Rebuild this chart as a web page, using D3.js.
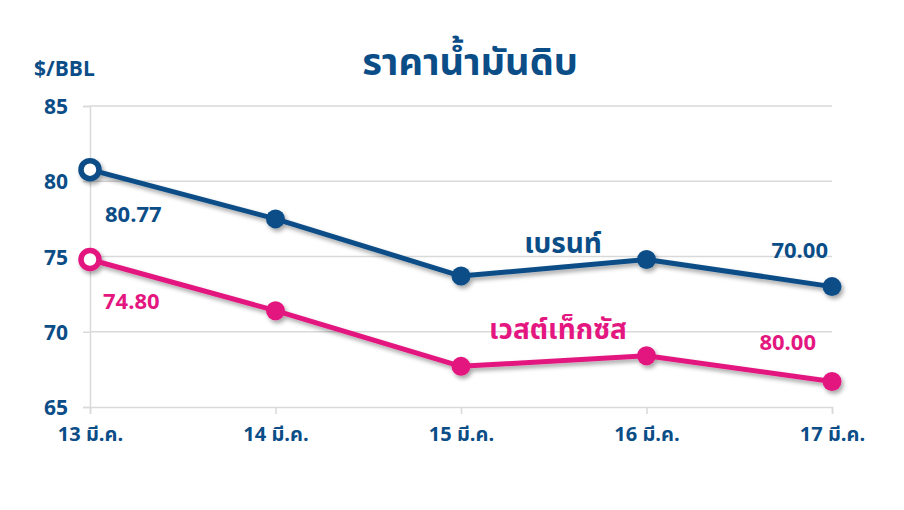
<!DOCTYPE html>
<html><head><meta charset="utf-8">
<script src="https://cdn.jsdelivr.net/npm/d3@7/dist/d3.min.js"></script>
<style>
body{margin:0;background:#fff;}
text{font-family:"Noto Sans Thai","Noto Sans","Open Sans",sans-serif;font-weight:bold;}
</style></head>
<body><svg id="c" width="904" height="510"></svg>
<script>
const categories = ["13 มี.ค.","14 มี.ค.","15 มี.ค.","16 มี.ค.","17 มี.ค."];
const brent = [80.77, 77.5, 73.7, 74.8, 73.0];
const wti = [74.8, 71.4, 67.7, 68.4, 66.7];
const yTicks = [65, 70, 75, 80, 85];
const seriesNames = ["เบรนท์", "เวสต์เท็กซัส"];
const valueLabels = ["80.77", "74.80", "70.00", "80.00"];
const title = "ราคาน้ำมันดิบ";
const unit = "$/BBL";

const blue = "#0b4d87", pink = "#e3177f", grid = "#d9d9d9";
const svg = d3.select("#c");
const defs = svg.append("defs");
const f = defs.append("filter").attr("id","sh").attr("x","-10%").attr("y","-20%").attr("width","130%").attr("height","160%");
f.append("feDropShadow").attr("dx",2).attr("dy",3).attr("stdDeviation",2).attr("flood-color","#000").attr("flood-opacity",0.35);

const x = d3.scalePoint().domain(categories).range([90, 832]);
const y = d3.scaleLinear().domain([65, 85]).range([407, 106]);

// gridlines
svg.append("g").selectAll("line").data(yTicks.filter(d=>d>65)).join("line")
  .attr("x1",90).attr("x2",832).attr("y1",d=>y(d)).attr("y2",d=>y(d))
  .attr("stroke",grid).attr("stroke-width",1.5);

// y axis
const ya = svg.append("g").attr("transform","translate(90,0)")
  .call(d3.axisLeft(y).tickValues(yTicks).tickSize(7).tickPadding(15));
ya.select(".domain").attr("stroke",grid).attr("stroke-width",1.5);
ya.selectAll(".tick line").attr("stroke",grid).attr("stroke-width",1.5);
ya.selectAll("text").attr("fill",blue).attr("font-size",21).attr("dy","0.36em");

// x axis
const xa = svg.append("g").attr("transform","translate(0,407)")
  .call(d3.axisBottom(x).tickSize(7).tickPadding(13));
xa.select(".domain").attr("stroke",grid).attr("stroke-width",1.5);
xa.selectAll(".tick line").attr("stroke",grid).attr("stroke-width",1.5);
xa.selectAll("text").attr("fill",blue).attr("font-size",20);

const line = d3.line().x((d,i)=>x(categories[i])).y(d=>y(d));
function drawSeries(vals, col){
  const g = svg.append("g").attr("filter","url(#sh)");
  g.append("path").datum(vals).attr("d",line).attr("fill","none").attr("stroke",col).attr("stroke-width",5).attr("stroke-linejoin","round");
  g.selectAll("circle").data(vals).join("circle")
    .attr("cx",(d,i)=>x(categories[i])).attr("cy",d=>y(d))
    .attr("r",(d,i)=>i===0?9:9.5)
    .attr("fill",(d,i)=>i===0?"#fff":col)
    .attr("stroke",col).attr("stroke-width",(d,i)=>i===0?5.5:0);
}
drawSeries(brent, blue);
drawSeries(wti, pink);

// texts
svg.append("text").attr("x",470).attr("y",75).attr("text-anchor","middle").attr("fill",blue).attr("font-size",38).text(title);
svg.append("text").attr("x",34).attr("y",76).attr("fill",blue).attr("font-size",21).text(unit);

const lab = (t,xx,yy,col,sz,anchor)=>svg.append("text").attr("x",xx).attr("y",yy).attr("fill",col).attr("font-size",sz).attr("text-anchor",anchor||"start").text(t);
lab(valueLabels[0], x(categories[0])+15, y(brent[0])+52, blue, 22);
lab(valueLabels[1], x(categories[0])+13, y(wti[0])+49, pink, 22);
lab(valueLabels[2], x(categories[4])-4, y(brent[4])-29, blue, 22, "end");
lab(valueLabels[3], x(categories[4])-16, y(wti[4])-31, pink, 22, "end");
lab(seriesNames[0], 563, 253, blue, 28, "middle");
lab(seriesNames[1], 558, 339, pink, 28, "middle");
</script></body></html>
